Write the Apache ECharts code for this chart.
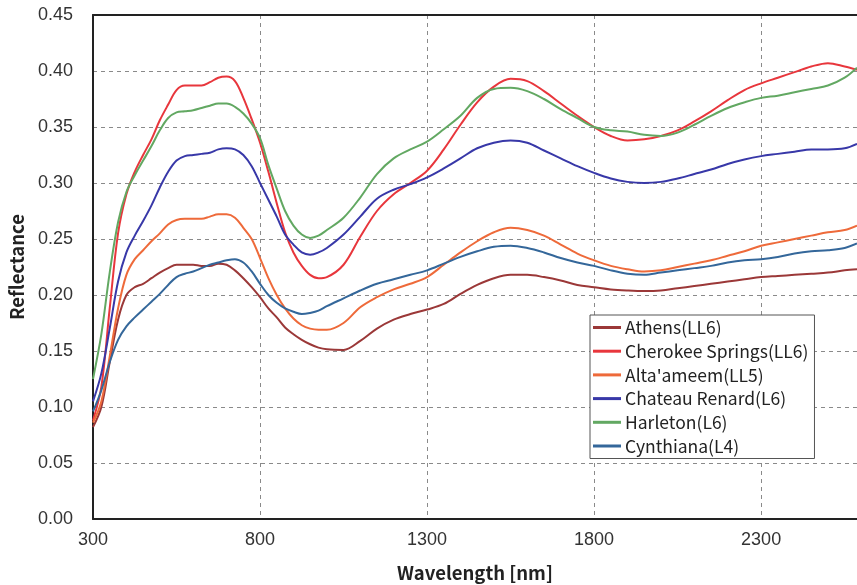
<!DOCTYPE html>
<html>
<head>
<meta charset="utf-8">
<script src="https://cdn.jsdelivr.net/npm/echarts@6/dist/echarts.min.js"></script>
<style>
html,body{margin:0;padding:0;background:#fff;}
#chart{width:857px;height:585px;}
</style>
</head>
<body>
<div id="chart"></div>
<script>
const wavelengths = [300,325,350,375,400,425,450,475,500,525,550,575,600,625,650,675,700,725,750,775,800,825,850,875,900,925,950,975,1000,1050,1100,1150,1200,1250,1300,1350,1400,1450,1500,1550,1600,1650,1700,1750,1800,1850,1900,1950,2000,2050,2100,2150,2200,2250,2300,2350,2400,2450,2500,2550,2587];

const athens = [0.082,0.100,0.140,0.178,0.200,0.207,0.210,0.215,0.220,0.224,0.227,0.227,0.227,0.226,0.226,0.228,0.227,0.222,0.215,0.207,0.198,0.188,0.180,0.171,0.165,0.160,0.156,0.153,0.1515,0.151,0.159,0.170,0.178,0.183,0.187,0.192,0.201,0.209,0.215,0.218,0.218,0.216,0.213,0.209,0.207,0.205,0.204,0.2035,0.204,0.206,0.208,0.210,0.212,0.214,0.216,0.217,0.218,0.219,0.220,0.222,0.223];

const cherokee = [0.088,0.118,0.188,0.255,0.290,0.310,0.325,0.339,0.356,0.370,0.383,0.387,0.387,0.387,0.390,0.394,0.395,0.391,0.376,0.357,0.336,0.310,0.282,0.256,0.238,0.226,0.218,0.215,0.216,0.227,0.252,0.275,0.290,0.300,0.311,0.330,0.352,0.372,0.386,0.393,0.391,0.382,0.371,0.360,0.350,0.342,0.338,0.339,0.342,0.347,0.355,0.364,0.374,0.383,0.389,0.394,0.399,0.404,0.407,0.404,0.401];

const altaameem = [0.086,0.105,0.145,0.188,0.218,0.232,0.240,0.248,0.255,0.263,0.267,0.268,0.268,0.268,0.270,0.272,0.272,0.269,0.260,0.250,0.233,0.215,0.200,0.188,0.179,0.173,0.170,0.169,0.169,0.175,0.189,0.198,0.205,0.210,0.216,0.227,0.238,0.248,0.256,0.260,0.258,0.253,0.245,0.237,0.231,0.226,0.223,0.221,0.222,0.225,0.228,0.231,0.235,0.239,0.244,0.247,0.250,0.253,0.256,0.258,0.262];

const chateau = [0.105,0.130,0.170,0.212,0.238,0.253,0.266,0.280,0.296,0.310,0.320,0.324,0.325,0.326,0.327,0.330,0.331,0.330,0.325,0.315,0.300,0.285,0.270,0.254,0.245,0.238,0.236,0.238,0.242,0.254,0.270,0.286,0.294,0.299,0.305,0.313,0.322,0.331,0.336,0.338,0.336,0.329,0.322,0.315,0.309,0.304,0.301,0.300,0.301,0.304,0.308,0.312,0.317,0.321,0.324,0.326,0.328,0.330,0.330,0.331,0.335];

const harleton = [0.125,0.165,0.220,0.265,0.292,0.307,0.320,0.333,0.347,0.358,0.363,0.364,0.365,0.367,0.369,0.371,0.371,0.368,0.362,0.353,0.340,0.316,0.295,0.275,0.262,0.254,0.251,0.253,0.258,0.269,0.287,0.308,0.322,0.330,0.337,0.348,0.360,0.376,0.384,0.385,0.382,0.375,0.366,0.358,0.350,0.347,0.346,0.343,0.342,0.345,0.352,0.360,0.367,0.372,0.376,0.378,0.381,0.384,0.387,0.394,0.403];

const cynthiana = [0.096,0.115,0.140,0.160,0.172,0.180,0.187,0.194,0.201,0.209,0.216,0.219,0.221,0.224,0.227,0.229,0.231,0.232,0.229,0.221,0.210,0.200,0.193,0.188,0.185,0.183,0.184,0.186,0.190,0.197,0.204,0.210,0.214,0.218,0.222,0.228,0.234,0.239,0.243,0.244,0.242,0.238,0.233,0.229,0.226,0.222,0.219,0.218,0.220,0.222,0.224,0.226,0.229,0.231,0.232,0.234,0.237,0.239,0.240,0.242,0.246];

const seriesNames = ["Athens(LL6)","Cherokee Springs(LL6)","Alta'ameem(LL5)","Chateau Renard(L6)","Harleton(L6)","Cynthiana(L4)"];
const seriesValues = [athens, cherokee, altaameem, chateau, harleton, cynthiana];
const seriesColors = ['#9B3838','#E8363C','#EE6A3A','#3838A8','#62A862','#34679A'];

const xTickLabels = ['300','800','1300','1800','2300'];

const chart = echarts.init(document.getElementById('chart'));
const gridLine = {show:true, lineStyle:{color:'#8a8a8a', type:[4,4], width:1}};
const option = {
  animation:false,
  backgroundColor:'#fff',
  grid:{left:93, top:15, right:0, bottom:66, containLabel:false, outerBoundsMode:'none'},
  xAxis:[{
    type:'value', min:300, max:2587, interval:500,
    axisLine:{show:true, lineStyle:{color:'#222', width:2}},
    axisTick:{show:false},
    splitLine:gridLine,
    axisLabel:{showMaxLabel:false, color:'#333', fontSize:18, fontFamily:'Liberation Sans', margin:12,
      formatter:function(v){ return xTickLabels.indexOf(String(v))>=0 ? String(v) : ''; }},
    name:'Wavelength [nm]', nameLocation:'middle', nameGap:45,
    nameTextStyle:{color:'#222', fontSize:18.5, fontWeight:'bold', fontFamily:'Noto Sans CJK JP'}
  },{
    type:'value', position:'top', min:300, max:2587,
    axisLine:{show:true, lineStyle:{color:'#222', width:2}},
    axisTick:{show:false}, axisLabel:{show:false}, splitLine:{show:false}
  }],
  yAxis:{
    type:'value', min:0, max:0.45, interval:0.05,
    axisLine:{show:true, lineStyle:{color:'#222', width:2}},
    axisTick:{show:false},
    splitLine:gridLine,
    axisLabel:{color:'#333', fontSize:18, fontFamily:'Liberation Sans', margin:20,
      formatter:function(v){ return v.toFixed(2); }},
    name:'Reflectance', nameLocation:'middle', nameGap:67, nameRotate:90,
    nameTextStyle:{color:'#222', fontSize:18.5, fontWeight:'bold', fontFamily:'Noto Sans CJK JP'}
  },
  legend:{
    orient:'vertical', left:590, top:315,
    backgroundColor:'#fff', borderColor:'#555', borderWidth:1,
    padding:[3,6,3,3],
    itemWidth:28, itemHeight:3, itemGap:4.7, icon:'rect',
    textStyle:{color:'#222', fontSize:17.5, lineHeight:19, fontFamily:'Noto Sans CJK JP', padding:[0,0,0,-1]},
    data:seriesNames
  },
  series: seriesNames.map(function(name,i){
    return {
      name:name, type:'line', xAxisIndex:0, yAxisIndex:0,
      showSymbol:false, symbol:'none', smooth:0.35,
      lineStyle:{color:seriesColors[i], width:2},
      itemStyle:{color:seriesColors[i]},
      data: wavelengths.map(function(w,j){ return [w, seriesValues[i][j]]; })
    };
  })
};
chart.setOption(option);
</script>
</body>
</html>
